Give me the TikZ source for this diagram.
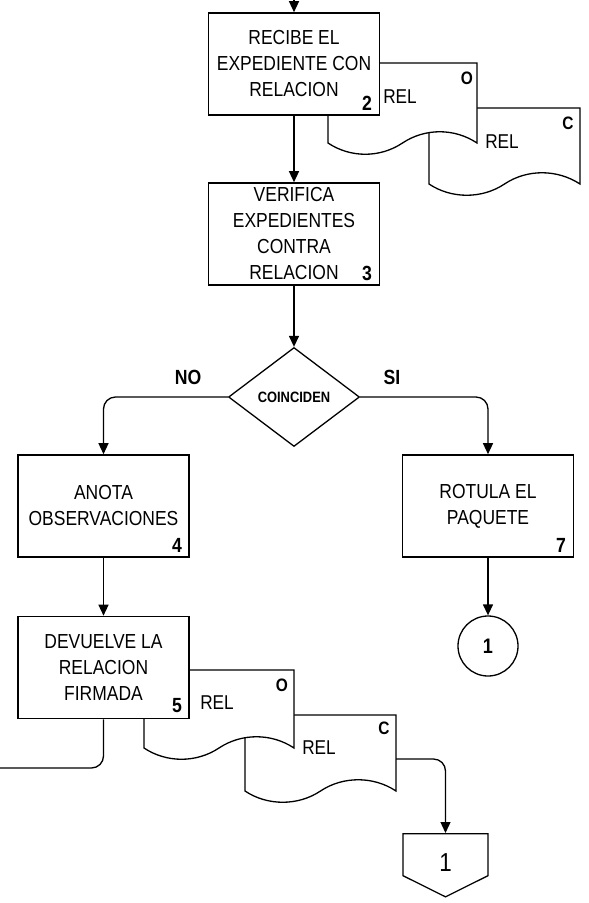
\documentclass[tikz,border=0pt]{standalone}
\usepackage{fontspec}
\setmainfont[FakeStretch=0.86]{Liberation Sans}
\usetikzlibrary{shapes.geometric, shapes.symbols, arrows.meta}

\begin{document}
\begin{tikzpicture}[x=1pt, y=-1pt,
	caja/.style = {rectangle, draw, line width=1.6pt, fill=white,
		minimum width=171pt, minimum height=102pt, inner sep=0pt,
		align=center, font=\fontsize{20.3}{26}\selectfont},
	num/.style = {inner sep=0pt, font=\fontsize{20.5}{20.5}\selectfont\bfseries},
	hoja/.style = {inner sep=0pt, font=\fontsize{18}{18}\selectfont\bfseries},
	doc/.style = {draw, line width=1.3pt, fill=white},
	etiq/.style = {inner sep=0pt, font=\fontsize{20}{20}\selectfont},
	rama/.style = {inner sep=0pt, font=\fontsize{20.5}{20.5}\selectfont\bfseries},
	flecha/.style = {line width=1.3pt, -{Triangle[length=11pt,width=10pt]}},
	linea/.style = {line width=1.3pt}]
	
	\useasboundingbox (0,0) rectangle (589,903);
	
	% Entrada
	\coordinate (ini) at (294,0);
	
	% Documentos del paso 2
	\draw[doc] (429,108) -- (580,108) -- (580,184)
		.. controls (557,169) and (527,169) .. (504.5,184)
		.. controls (482,199) and (451.5,199) .. (429,184) -- cycle;
	\draw[doc] (328,63) -- (477,63) -- (477,143)
		.. controls (454.5,128) and (425,128) .. (402.5,143)
		.. controls (380,158) and (350.5,158) .. (328,143) -- cycle;
	\node[etiq] (rel2o) at (400,97) {REL};
	\node[hoja] (o2) at (467,78) {O};
	\node[etiq] (rel2c) at (502,142) {REL};
	\node[hoja] (c2) at (568,123) {C};
	
	% Paso 2
	\node[caja] (b2) at (294,64) {RECIBE EL\\EXPEDIENTE CON\\RELACION};
	\node[num] (n2) at (367,103) {2};
	
	% Paso 3
	\node[caja] (b3) at (294,234) {VERIFICA\\EXPEDIENTES\\CONTRA\\RELACION};
	\node[num] (n3) at (367,273) {3};
	
	% Decision
	\node[diamond, draw, line width=1.3pt, fill=white, inner sep=0pt,
		minimum width=131pt, minimum height=99pt,
		font=\fontsize{15}{15}\selectfont\bfseries] (coin) at (294,397) {COINCIDEN};
	\node[rama] (no) at (188,377) {NO};
	\node[rama] (si) at (392,377) {SI};
	
	% Paso 4
	\node[caja] (b4) at (103.5,506) {ANOTA\\OBSERVACIONES};
	\node[num] (n4) at (177,545) {4};
	
	% Paso 7
	\node[caja] (b7) at (488,506) {ROTULA EL\\PAQUETE};
	\node[num] (n7) at (561,545) {7};
	
	% Conector
	\node[circle, draw, line width=1.3pt, minimum size=60pt, inner sep=0pt,
		font=\fontsize{21}{21}\selectfont\bfseries] (fin) at (488,646) {1};
	
	% Documentos del paso 5
	\draw[doc] (245,715) -- (396,715) -- (396,791)
		.. controls (373.5,776) and (343,776) .. (320.5,791)
		.. controls (298,806) and (267.5,806) .. (245,791) -- cycle;
	\draw[doc] (144,670) -- (294,670) -- (294,748)
		.. controls (271.5,733) and (241.5,733) .. (219,748)
		.. controls (196.5,763) and (166.5,763) .. (144,748) -- cycle;
	\node[etiq] (rel5o) at (217,703) {REL};
	\node[hoja] (o5) at (282,685) {O};
	\node[etiq] (rel5c) at (319,748) {REL};
	\node[hoja] (c5) at (384,728) {C};
	\coordinate (sC5) at (396,759);
	
	% Paso 5
	\node[caja] (b5) at (103.5,667.5) {DEVUELVE LA\\RELACION\\FIRMADA};
	\node[num] (n5) at (177,706) {5};
	\coordinate (sal) at (0,768);
	
	% Conector de pagina
	\node[signal, signal to=south, signal from=nowhere, signal pointer angle=127,
		draw, line width=1.3pt, minimum width=85pt, minimum height=42pt,
		inner sep=0pt, anchor=north] (pag) at (445.5,833) {};
	\node[inner sep=0pt, font=\fontsize{26}{26}\selectfont] (npag) at (445.5,863) {1};
	
	% Flechas
	\draw[flecha] (ini) -- (b2);
	\draw[flecha] (b2) -- (b3);
	\draw[flecha] (b3) -- (coin);
	\draw[flecha, rounded corners=12pt] (coin.west) -| (b4.north);
	\draw[flecha, rounded corners=12pt] (coin.east) -| (b7.north);
	\draw[flecha] (b4) -- (b5);
	\draw[flecha] (b7) -- (fin);
	\draw[linea, rounded corners=12pt] (b5.south) |- (sal);
	\draw[flecha, rounded corners=12pt] (sC5) -| (pag.north);
	
\end{tikzpicture}
\end{document}
